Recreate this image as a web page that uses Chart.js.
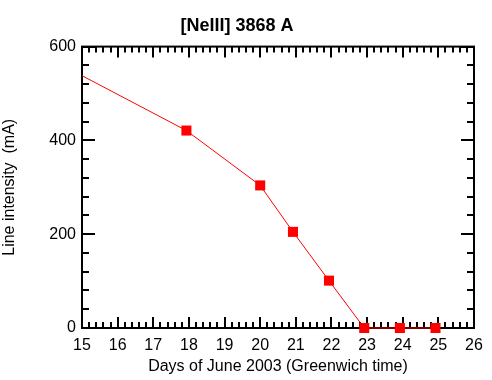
<!DOCTYPE html>
<html>
<head>
<meta charset="utf-8">
<script src="https://cdn.jsdelivr.net/npm/chart.js@4.4.0/dist/chart.umd.min.js"></script>
<style>
  html, body { margin: 0; padding: 0; background: #fff; }
  #wrap { width: 492px; height: 380px; position: relative; }
</style>
</head>
<body>
<div id="wrap"><canvas id="c" width="492" height="380"></canvas></div>
<script>
const chartTitle = "[NeIII] 3868 A";
const xTitle = "Days of June 2003 (Greenwich time)";
const yTitle = "Line intensity  (mA)";
const days = [15, 17.93, 20.0, 20.92, 21.93, 22.92, 23.92, 24.92];
const intensity = [538, 421, 304, 205, 101, 0, 0, 0];
const markerShown = [false, true, true, true, true, true, true, true];
const xRange = [15, 26];
const yRange = [0, 600];

const FONT = "'Liberation Sans', Arial, Helvetica, sans-serif";

const frameTicks = {
  id: 'frameTicks',
  beforeDatasetsDraw(chart) {
    const ctx = chart.ctx;
    const a = chart.chartArea;
    const xs = chart.scales.x, ys = chart.scales.y;
    ctx.save();
    ctx.strokeStyle = '#000';
    ctx.lineWidth = 2;
    ctx.strokeRect(a.left, a.top, a.right - a.left, a.bottom - a.top);
    ctx.beginPath();
    for (let i = 0; i <= (xRange[1] - xRange[0]) * 5; i++) {
      const v = xRange[0] + i * 0.2;
      const px = Math.round(xs.getPixelForValue(v));
      const len = (i % 5 === 0) ? 11 : 6;
      ctx.moveTo(px, a.bottom); ctx.lineTo(px, a.bottom - len);
      ctx.moveTo(px, a.top); ctx.lineTo(px, a.top + len);
    }
    for (let i = 0; i <= (yRange[1] - yRange[0]) / 40; i++) {
      const v = yRange[0] + i * 40;
      const py = Math.round(ys.getPixelForValue(v));
      const len = (i % 5 === 0) ? 13 : 7;
      ctx.moveTo(a.left, py); ctx.lineTo(a.left + len, py);
      ctx.moveTo(a.right, py); ctx.lineTo(a.right - len, py);
    }
    ctx.stroke();
    ctx.restore();
  }
};

new Chart(document.getElementById('c'), {
  type: 'line',
  data: {
    datasets: [{
      data: days.map((d, i) => ({ x: d, y: intensity[i] })),
      borderColor: '#ff0000',
      borderWidth: 1,
      backgroundColor: '#ff0000',
      pointBackgroundColor: '#ff0000',
      pointBorderColor: '#ff0000',
      pointBorderWidth: 0,
      pointStyle: 'rect',
      pointRadius: markerShown.map(m => m ? 7.1 : 0),
      tension: 0,
      clip: false
    }]
  },
  options: {
    responsive: false,
    animation: false,
    events: [],
    layout: { padding: { left: 0, right: 18, top: 0, bottom: 0 } },
    plugins: {
      legend: { display: false },
      tooltip: { enabled: false },
      title: {
        display: true,
        text: chartTitle,
        color: '#000',
        font: { family: FONT, size: 18, weight: 'bold' },
        padding: { top: 15, bottom: 10 }
      }
    },
    scales: {
      x: {
        type: 'linear',
        min: xRange[0], max: xRange[1],
        grid: { display: false, drawTicks: false },
        border: { display: false },
        ticks: { stepSize: 1, color: '#000', padding: 8, font: { family: FONT, size: 16 } },
        title: { display: true, text: xTitle, color: '#000', padding: { top: 2, bottom: 4 }, font: { family: FONT, size: 16 } },
        afterFit(scale) { scale.height = 52; }
      },
      y: {
        min: yRange[0], max: yRange[1],
        grid: { display: false, drawTicks: false },
        border: { display: false },
        ticks: { stepSize: 200, color: '#000', padding: 6, font: { family: FONT, size: 16 } },
        title: { display: true, text: yTitle, color: '#000', padding: { top: 0, bottom: 6 }, font: { family: FONT, size: 16 } },
        afterFit(scale) { scale.width = 82; }
      }
    }
  },
  plugins: [frameTicks]
});
</script>
</body>
</html>
